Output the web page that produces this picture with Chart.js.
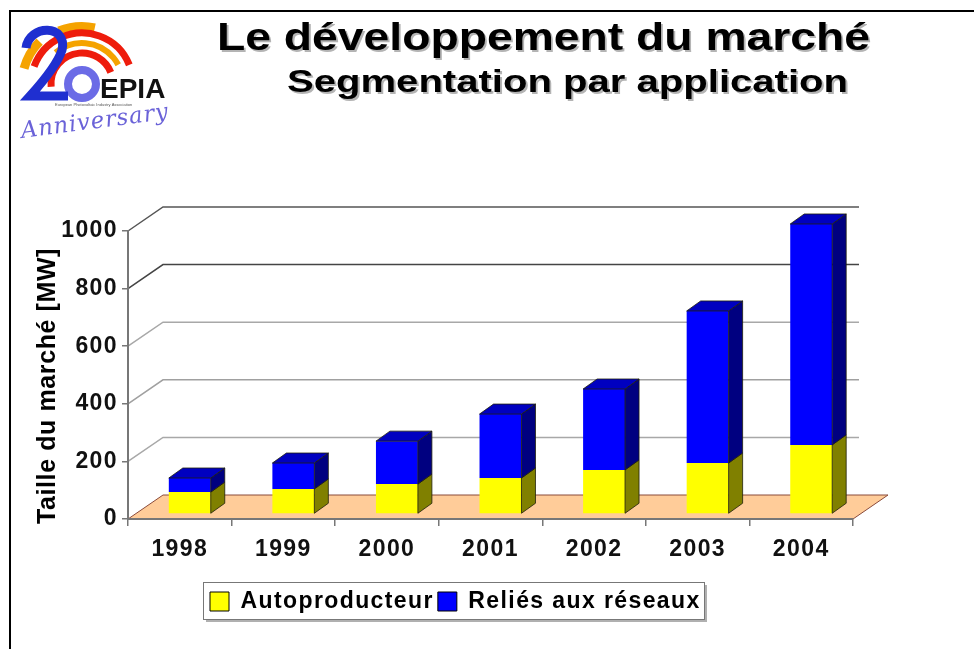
<!DOCTYPE html>
<html lang="fr">
<head>
<meta charset="utf-8">
<title>Le développement du marché</title>
<script src="https://cdn.jsdelivr.net/npm/chart.js@4/dist/chart.umd.min.js"></script>
<style>
html,body{margin:0;padding:0;background:#fff}
canvas{display:block;filter:blur(0.35px)}
</style>
</head>
<body>
<canvas id="c" width="974" height="649"></canvas>
<script>
const years = ["1998","1999","2000","2001","2002","2003","2004"];
const autoproducteur = [76,87,104,125,153,177,240];
const reseaux = [49,90,149,222,281,528,767];
const yTicks = [0,200,400,600,800,1000];
const gridColours = ["#b0b0b0","#a8a8a8","#a0a0a0","#a8a8a8","#444444","#555555"];
const titleMain = "Le développement du marché";
const titleSub = "Segmentation par application";
const axisTitle = "Taille du marché [MW]";
const logoName = "EPIA";
const logoTagline = "European Photovoltaic Industry Association";
const logoAnniversary = "Anniversary";

const FONT = '"Liberation Sans", Arial, sans-serif';
const WALL = {dx:35, dy:-24};
const BAR_SHIFT = {dx:10, dy:-5};
const BAR_DEPTH = {dx:14, dy:-10};
const FACE = [
  {side:"#808000"},
  {side:"#000080", top:"#0000c0"}
];

function stretched(ctx, text, x, base, font, width, colour){
  ctx.save();
  ctx.letterSpacing = "0px";
  ctx.font = font;
  ctx.textAlign = "left";
  ctx.textBaseline = "alphabetic";
  const w = ctx.measureText(text).width;
  ctx.translate(x, base);
  ctx.scale(width / w, 1);
  ctx.fillStyle = "#b4b4b4";
  ctx.fillText(text, 1.5, 1.5);
  ctx.fillStyle = colour;
  ctx.fillText(text, 0, 0);
  ctx.restore();
}

function arc(ctx, cx, cy, r, a0, a1, lw, colour){
  ctx.beginPath();
  ctx.arc(cx, cy, r, a0 * Math.PI / 180, a1 * Math.PI / 180);
  ctx.lineWidth = lw;
  ctx.strokeStyle = colour;
  ctx.stroke();
}

function drawLogo(ctx){
  ctx.save();
  ctx.letterSpacing = "0px";
  const cx = 82, cy = 84;
  arc(ctx, 82, 88, 62, -112, -78, 8, "#f5a300");
  arc(ctx, 82, 84, 60, -165, -135, 9, "#f5a300");
  arc(ctx, cx, cy, 41, -130, -28, 6, "#f5a300");
  arc(ctx, cx, cy, 51, -160, -22, 7, "#ee1c0c");
  arc(ctx, cx, cy, 31, -185, -22, 7, "#ee1c0c");
  arc(ctx, cx, cy, 14, 0, 360, 8, "#6b6be6");
  ctx.beginPath();
  ctx.moveTo(26, 48);
  ctx.bezierCurveTo(29, 24, 68, 24, 62, 50);
  ctx.quadraticCurveTo(57, 66, 30, 96);
  ctx.lineTo(68, 96);
  ctx.lineWidth = 9;
  ctx.lineJoin = "miter";
  ctx.strokeStyle = "#1f2fd0";
  ctx.stroke();
  ctx.fillStyle = "#111";
  ctx.textAlign = "left";
  ctx.textBaseline = "alphabetic";
  ctx.font = "bold 28px " + FONT;
  ctx.fillText(logoName, 100, 98);
  ctx.font = "4px " + FONT;
  ctx.fillStyle = "#555";
  ctx.fillText(logoTagline, 55, 106);
  ctx.save();
  ctx.translate(22, 138);
  ctx.rotate(-7.5 * Math.PI / 180);
  ctx.font = 'italic 23px "DejaVu Serif", serif';
  ctx.fillStyle = "#6a62d8";
  ctx.letterSpacing = "1px";
  const w = ctx.measureText(logoAnniversary).width;
  ctx.scale(149 / w, 1);
  ctx.fillText(logoAnniversary, 0, 0);
  ctx.restore();
  ctx.restore();
}

function setSpacing(chart){ chart.ctx.letterSpacing = "1.4px"; }

const scenePlugin = {
  id: "scene",
  beforeInit: setSpacing,
  beforeUpdate: setSpacing,
  afterLayout(chart){
    const lg = chart.legend;
    const w = lg.right - lg.left;
    lg.left = 206;
    lg.right = 206 + w;
    lg.top = 586;
    lg.bottom = 586 + lg.height;
  },
  beforeDraw(chart){
    const ctx = chart.ctx, y = chart.scales.y, a = chart.chartArea;
    setSpacing(chart);
    ctx.save();
    ctx.strokeStyle = "#000";
    ctx.lineWidth = 2;
    ctx.beginPath();
    ctx.moveTo(974, 11);
    ctx.lineTo(10, 11);
    ctx.lineTo(10, 649);
    ctx.stroke();

    drawLogo(ctx);
    stretched(ctx, titleMain, 217, 50, "bold 38px " + FONT, 653, "#000");
    stretched(ctx, titleSub, 287, 92, "bold 31px " + FONT, 561, "#000");

    const y0 = y.getPixelForValue(0);
    ctx.beginPath();
    ctx.moveTo(a.left, y0);
    ctx.lineTo(a.right, y0);
    ctx.lineTo(a.right + WALL.dx, y0 + WALL.dy);
    ctx.lineTo(a.left + WALL.dx, y0 + WALL.dy);
    ctx.closePath();
    ctx.fillStyle = "#ffcc99";
    ctx.fill();
    ctx.strokeStyle = "#8a4a3a";
    ctx.lineWidth = 1;
    ctx.stroke();

    yTicks.forEach((v, i) => {
      if (v === 0) return;
      const py = y.getPixelForValue(v);
      ctx.beginPath();
      ctx.moveTo(a.left, py);
      ctx.lineTo(a.left + WALL.dx, py + WALL.dy);
      ctx.lineTo(a.right + 6, py + WALL.dy);
      ctx.strokeStyle = gridColours[i];
      ctx.lineWidth = 1.5;
      ctx.stroke();
    });

    ctx.translate(48, 386);
    ctx.rotate(-Math.PI / 2);
    ctx.font = "bold 25px " + FONT;
    ctx.letterSpacing = "0.6px";
    ctx.textAlign = "center";
    ctx.textBaseline = "middle";
    ctx.fillStyle = "#000";
    ctx.fillText(axisTitle, 0, 0);
    ctx.restore();
    setSpacing(chart);

    ctx.save();
    ctx.fillStyle = "#b0b0b0";
    ctx.fillRect(206, 585, 501, 37);
    ctx.fillStyle = "#fff";
    ctx.fillRect(203, 582, 501, 37);
    ctx.strokeStyle = "#777";
    ctx.lineWidth = 1;
    ctx.strokeRect(203.5, 582.5, 501, 37);
    ctx.restore();
  },
  beforeDatasetsDraw(chart){
    chart.ctx.save();
    chart.ctx.translate(BAR_SHIFT.dx, BAR_SHIFT.dy);
  },
  afterDatasetsDraw(chart){
    const ctx = chart.ctx;
    const last = chart.data.datasets.length - 1;
    chart.data.datasets.forEach((ds, d) => {
      chart.getDatasetMeta(d).data.forEach(el => {
        const p = el.getProps(["x","y","base","width"], true);
        const r = p.x + p.width / 2, l = p.x - p.width / 2;
        ctx.beginPath();
        ctx.moveTo(r, p.y);
        ctx.lineTo(r + BAR_DEPTH.dx, p.y + BAR_DEPTH.dy);
        ctx.lineTo(r + BAR_DEPTH.dx, p.base + BAR_DEPTH.dy);
        ctx.lineTo(r, p.base);
        ctx.closePath();
        ctx.fillStyle = FACE[d].side;
        ctx.fill();
        ctx.strokeStyle = "#20200a";
        ctx.lineWidth = 0.8;
        ctx.stroke();
        if (d === last) {
          ctx.beginPath();
          ctx.moveTo(l, p.y);
          ctx.lineTo(l + BAR_DEPTH.dx, p.y + BAR_DEPTH.dy);
          ctx.lineTo(r + BAR_DEPTH.dx, p.y + BAR_DEPTH.dy);
          ctx.lineTo(r, p.y);
          ctx.closePath();
          ctx.fillStyle = FACE[d].top;
          ctx.fill();
          ctx.stroke();
        }
      });
    });
    ctx.restore();
  }
};

new Chart(document.getElementById("c"), {
  type: "bar",
  data: {
    labels: years,
    datasets: [
      {label:"Autoproducteur", data:autoproducteur, backgroundColor:"#ffff00", borderWidth:0, stack:"s", clip:false, barPercentage:0.405, categoryPercentage:1},
      {label:"Reliés aux réseaux", data:reseaux, backgroundColor:"#0000ff", borderWidth:0, stack:"s", clip:false, barPercentage:0.405, categoryPercentage:1}
    ]
  },
  options: {
    responsive: false,
    animation: false,
    layout: {padding:{top:231, right:121, bottom:0, left:0}},
    plugins: {
      tooltip: {enabled:false},
      title: {display:false},
      legend: {
        display: true,
        position: "bottom",
        align: "start",
        labels: {
          boxWidth: 19, boxHeight: 19, padding: 4, color: "#000",
          font: {family: FONT, size: 23, weight: "bold"},
          generateLabels(chart){
            return Chart.defaults.plugins.legend.labels.generateLabels(chart)
              .map(it => Object.assign(it, {lineWidth:1, strokeStyle:"#000"}));
          }
        }
      }
    },
    scales: {
      x: {
        stacked: true,
        afterFit(s){ s.height = 130 - s.chart.legend.height; },
        border: {color:"#777", width:2},
        grid: {drawOnChartArea:false, drawTicks:true, tickLength:7, color:"#777", lineWidth:1.5, offset:true},
        ticks: {color:"#111", padding:10, maxRotation:0, autoSkip:false, font:{family:FONT, size:23, weight:"bold"}}
      },
      y: {
        stacked: true,
        min: 0, max: 1000,
        afterFit(s){ s.width = 128; },
        afterBuildTicks(s){ s.ticks = yTicks.map(v => ({value:v})); },
        border: {color:"#777", width:2},
        grid: {drawOnChartArea:false, drawTicks:true, tickLength:6, color:"#777", lineWidth:1.5},
        ticks: {color:"#111", padding:4, callback: v => String(v), font:{family:FONT, size:23, weight:"bold"}}
      }
    }
  },
  plugins: [scenePlugin]
});
</script>
</body>
</html>
